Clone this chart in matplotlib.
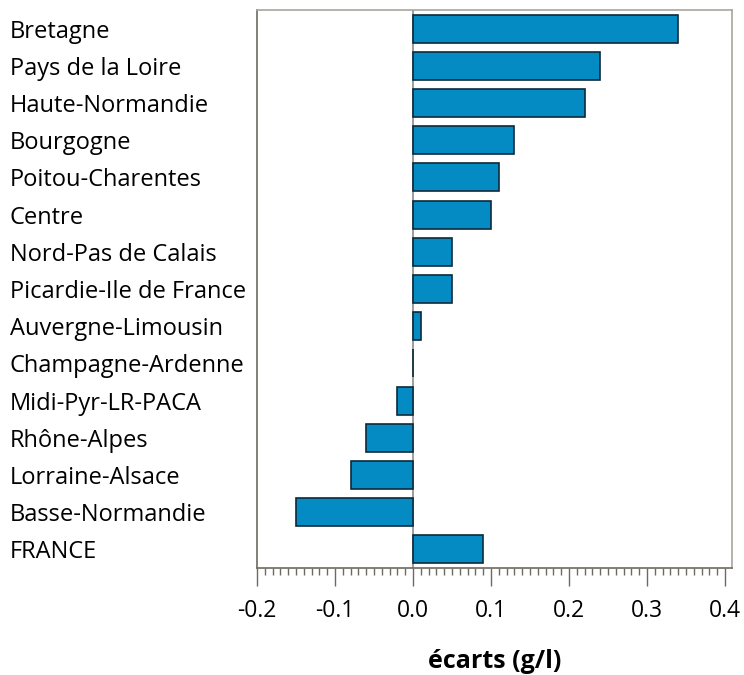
import matplotlib
matplotlib.use("Agg")
import matplotlib.pyplot as plt
from matplotlib.ticker import MultipleLocator

plt.rcParams["font.family"] = ["Open Sans", "DejaVu Sans"]

regions = [
    "Bretagne", "Pays de la Loire", "Haute-Normandie", "Bourgogne",
    "Poitou-Charentes", "Centre", "Nord-Pas de Calais", "Picardie-Ile de France",
    "Auvergne-Limousin", "Champagne-Ardenne", "Midi-Pyr-LR-PACA", "Rhône-Alpes",
    "Lorraine-Alsace", "Basse-Normandie", "FRANCE",
]
ecarts = [0.34, 0.24, 0.22, 0.13, 0.11, 0.10, 0.05, 0.05, 0.01, 0.0,
          -0.02, -0.06, -0.08, -0.15, 0.09]
xticks = [-0.2, -0.1, 0.0, 0.1, 0.2, 0.3, 0.4]

fig = plt.figure(figsize=(7.44, 6.75), dpi=100)
ax = fig.add_axes([257 / 744, 1 - 568 / 675, 475 / 744, 558 / 675])

ypos = list(range(len(regions)))
ax.barh(ypos, ecarts, height=0.75, color="#058BC4", edgecolor="#0b2a3a", linewidth=1.2, zorder=3)
ax.axvline(0, color="#8c8c8c", linewidth=1.2, zorder=2)

ax.set_ylim(len(regions) - 0.5, -0.5)
ax.set_xlim(-0.2, 0.409)

ax.set_yticks(ypos)
ax.set_yticklabels(regions, ha="left", fontsize=17)
ax.tick_params(axis="y", length=0, pad=247 * 0.72)

ax.set_xticks(xticks)
ax.set_xticklabels([f"{v:.1f}" for v in xticks], fontsize=16.5)
ax.xaxis.set_minor_locator(MultipleLocator(0.01))
ax.tick_params(axis="x", which="major", length=13, width=1, color="#6d6a5f", pad=9, direction="out")
ax.tick_params(axis="x", which="minor", length=5, width=1, color="#6d6a5f", direction="out")

ax.spines["left"].set_color("#6d6a5f")
ax.spines["bottom"].set_color("#6d6a5f")
ax.spines["top"].set_color("#a8a69e")
ax.spines["right"].set_color("#a8a69e")
for s in ax.spines.values():
    s.set_linewidth(1.2)

ax.set_xlabel("écarts (g/l)", fontsize=18, fontweight="bold", labelpad=19)

fig.savefig("out.png", dpi=100)
